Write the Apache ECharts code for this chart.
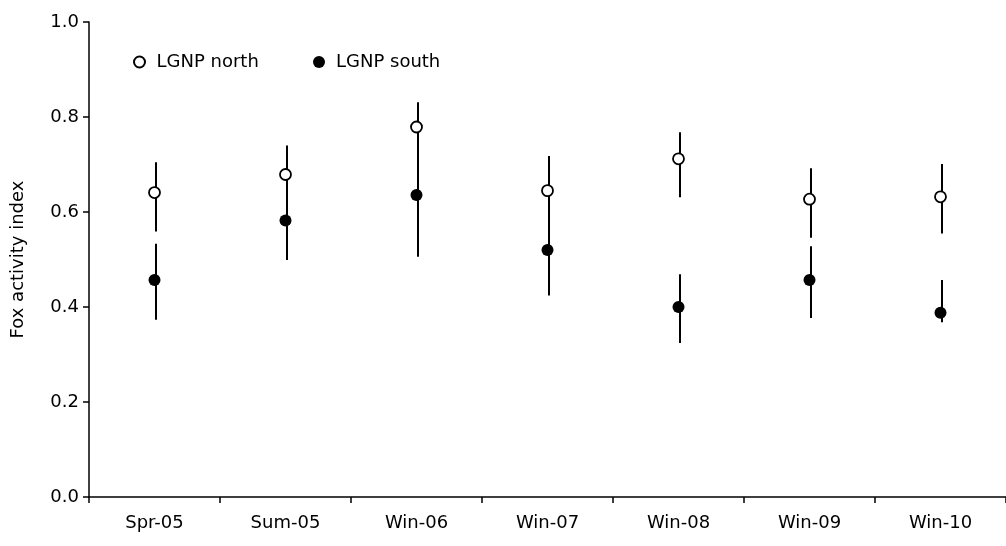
<!DOCTYPE html>
<html>
<head>
<meta charset="utf-8">
<script src="https://cdn.jsdelivr.net/npm/echarts@6/dist/echarts.min.js"></script>
<style>
html,body{margin:0;padding:0;background:#fff;}
#chart{width:1006px;height:546px;}
</style>
</head>
<body>
<div id="chart"></div>
<script>
const categories = ['Spr-05','Sum-05','Win-06','Win-07','Win-08','Win-09','Win-10'];
const yTicks = [0, 0.2, 0.4, 0.6, 0.8, 1.0];
const northMean = [0.641, 0.679, 0.779, 0.645, 0.712, 0.627, 0.632];
const northLo   = [0.559, 0.620, 0.725, 0.550, 0.631, 0.546, 0.555];
const northHi   = [0.705, 0.740, 0.831, 0.718, 0.768, 0.692, 0.701];
const southMean = [0.457, 0.582, 0.636, 0.520, 0.400, 0.457, 0.388];
const southLo   = [0.373, 0.499, 0.506, 0.424, 0.324, 0.377, 0.368];
const southHi   = [0.533, 0.660, 0.770, 0.600, 0.469, 0.528, 0.457];

const FONT = 'DejaVu Sans';
const FS = 18;

function errData(lo, hi){ return categories.map((c,i)=>[i, lo[i], hi[i]]); }

function renderErr(params, api){
  const x = api.value(0);
  const p1 = api.coord([x, api.value(1)]);
  const p2 = api.coord([x, api.value(2)]);
  return {
    type: 'line',
    shape: {x1: p1[0]+1.5, y1: p1[1], x2: p2[0]+1.5, y2: p2[1]},
    style: {stroke: '#000', lineWidth: 2}
  };
}

const chart = echarts.init(document.getElementById('chart'), null, {renderer:'canvas'});
chart.setOption({
  animation: false,
  backgroundColor: '#fff',
  textStyle: {fontFamily: FONT, color: '#000'},
  grid: {left: 89, top: 22, bottom: 49, right: -7, containLabel: false},
  legend: [
    {data: ['LGNP north'], left: 128, top: 48, itemWidth: 24, itemHeight: 11,
     textStyle: {fontFamily: FONT, fontSize: FS, color: '#000'}},
    {data: ['LGNP south'], left: 308, top: 48, itemWidth: 24, itemHeight: 12,
     textStyle: {fontFamily: FONT, fontSize: FS, color: '#000'}}
  ],
  xAxis: {
    type: 'category',
    data: categories,
    boundaryGap: true,
    axisLine: {lineStyle: {color: '#000', width: 1.5}},
    axisTick: {show: true, interval: 0, length: 6, lineStyle: {color: '#000', width: 1.5}},
    axisLabel: {interval: 0, fontFamily: FONT, fontSize: FS, color: '#000', margin: 17},
    splitLine: {show: false}
  },
  yAxis: {
    type: 'value',
    min: 0, max: 1, interval: 0.2,
    name: 'Fox activity index',
    nameLocation: 'middle',
    nameGap: 62,
    nameRotate: 90,
    nameTextStyle: {fontFamily: FONT, fontSize: FS, color: '#000'},
    axisLine: {show: true, lineStyle: {color: '#000', width: 1.5}},
    axisTick: {show: true, length: 6, lineStyle: {color: '#000', width: 1.5}},
    axisLabel: {fontFamily: FONT, fontSize: FS, color: '#000', margin: 10,
      formatter: v => (yTicks.indexOf(+v.toFixed(1)) >= 0 ? v.toFixed(1) : '')},
    splitLine: {show: false}
  },
  series: [
    {name: 'north-err', type: 'custom', renderItem: renderErr, data: errData(northLo, northHi), z: 1, silent: true},
    {name: 'south-err', type: 'custom', renderItem: renderErr, data: errData(southLo, southHi), z: 1, silent: true},
    {name: 'LGNP north', type: 'scatter', data: northMean, symbol: 'circle', symbolSize: 11, z: 3,
     itemStyle: {color: '#fff', borderColor: '#000', borderWidth: 1.8, opacity: 1}},
    {name: 'LGNP south', type: 'scatter', data: southMean, symbol: 'circle', symbolSize: 12, z: 3,
     itemStyle: {color: '#000', borderColor: '#000', borderWidth: 0, opacity: 1}}
  ]
});
</script>
</body>
</html>
